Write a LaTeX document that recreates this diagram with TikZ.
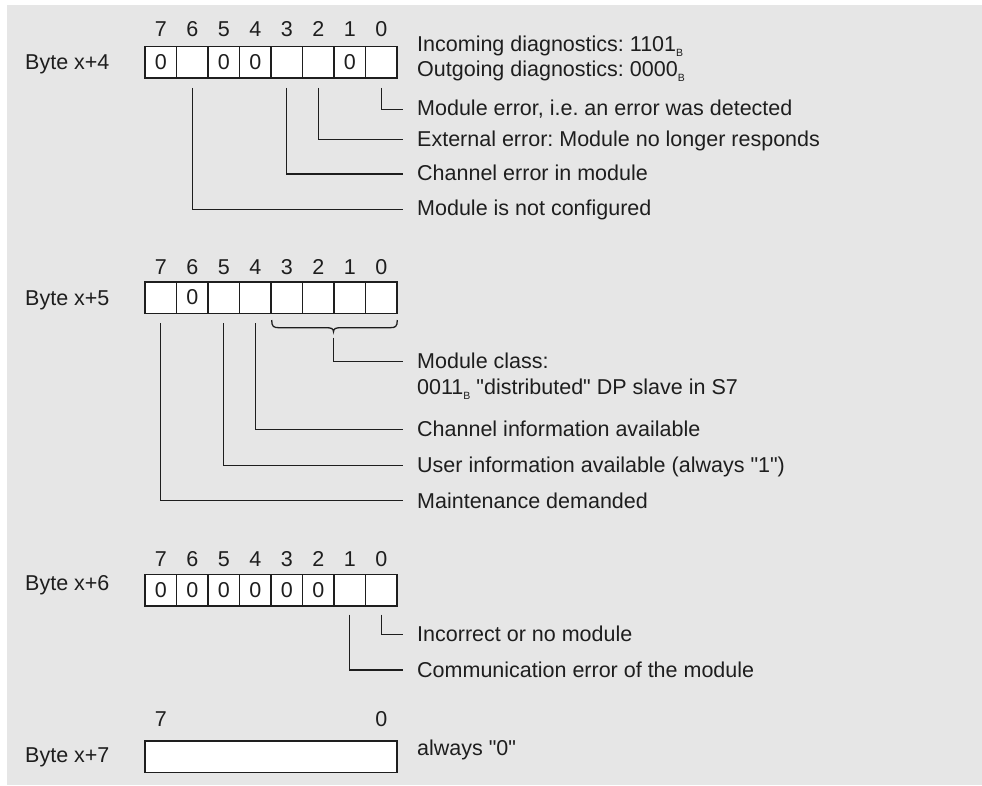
\documentclass[tikz,border=0pt]{standalone}
\usepackage{fontspec}
\setmainfont[Ligatures=TeXOff]{Liberation Sans}
\frenchspacing
\definecolor{bg}{HTML}{E6E6E6}
\definecolor{ink}{HTML}{1E1E1E}
\newcommand\binsub[1]{\raisebox{-5pt}{\fontsize{10.5}{11}\selectfont #1}}
\begin{document}
\begin{tikzpicture}[x=1pt,y=-1pt,
  txt/.style={anchor=base west, inner sep=0pt, text=ink, font=\fontsize{21.5}{25}\selectfont},
  num/.style={anchor=base, inner sep=0pt, text=ink, font=\fontsize{21.5}{25}\selectfont},
  cell/.style={draw=ink, fill=white, line width=1.5pt, minimum width=31.5pt,
    minimum height=31.5pt, inner sep=0pt, text=ink, font=\fontsize{21.5}{25}\selectfont},
  longcell/.style={cell, minimum width=252pt},
  lead/.style={draw=ink, line width=1.4pt}]

% page and grey panel
\fill[white] (0,0) rectangle (982,785);
\fill[bg] (7,5) rectangle (982,785);
\useasboundingbox (0,0) rectangle (982,785);

% ---------------- Byte x+4 ----------------
\node[txt] (l4) at (25,69.5) {Byte x+4};
\foreach \b/\v in {7/0,6/,5/0,4/0,3/,2/,1/0,0/} {
  \node[cell] (c4\b) at ({145+31.5*(7-\b)+15.75},62.25) {\v};
  \node[num] (n4\b) at ({145+31.5*(7-\b)+15.75},36.5) {\b};
}
\node[txt] (d4a) at (417,51.7) {Incoming diagnostics: 1101\binsub{B}};
\node[txt] (d4b) at (417,76.7) {Outgoing diagnostics: 0000\binsub{B}};

\node[txt] (t40) at (417,115.5) {Module error, i.e. an error was detected};
\node[txt] (t42) at (417,146.5) {External error: Module no longer responds};
\node[txt] (t43) at (417,180.3) {Channel error in module};
\node[txt] (t46) at (417,215.5) {Module is not configured};
\coordinate (e40) at (403,109.3);
\coordinate (e42) at (403,139.3);
\coordinate (e43) at (403,174);
\coordinate (e46) at (403,209.3);
\draw[lead] ([yshift=-9pt]c40.south) |- (e40);
\draw[lead] ([yshift=-9pt]c42.south) |- (e42);
\draw[lead] ([yshift=-9pt]c43.south) |- (e43);
\draw[lead] ([yshift=-9pt]c46.south) |- (e46);

% ---------------- Byte x+5 ----------------
\node[txt] (l5) at (25,305.3) {Byte x+5};
\foreach \b/\v in {7/,6/0,5/,4/,3/,2/,1/,0/} {
  \node[cell] (c5\b) at ({145+31.5*(7-\b)+15.75},297.5) {\v};
  \node[num] (n5\b) at ({145+31.5*(7-\b)+15.75},274) {\b};
}
% brace over bits 3..0
\coordinate (br) at (333.5,331.7);
\draw[lead, line width=1.3pt] (271.7,320) .. controls (271.7,326.5) and (273.5,327.7) .. (279,327.7)
  -- (326,327.7) .. controls (331,327.7) and (333.5,328.5) .. (br)
  .. controls (333.5,328.5) and (336,327.7) .. (341,327.7)
  -- (390,327.7) .. controls (395.5,327.7) and (397.3,326.5) .. (397.3,320);

\node[txt] (t5c) at (417,368.3) {Module class:};
\node[txt] (t5d) at (417,394) {0011\binsub{B} "distributed" DP slave in S7};
\node[txt] (t54) at (417,436.5) {Channel information available};
\node[txt] (t55) at (417,472.5) {User information available (always "1")};
\node[txt] (t57) at (417,508) {Maintenance demanded};
\coordinate (e5c) at (403,361.5);
\coordinate (e54) at (403,429.3);
\coordinate (e55) at (403,465.2);
\coordinate (e57) at (403,500.7);
\draw[lead] ([yshift=-6pt]br) |- (e5c);
\draw[lead] ([yshift=-9pt]c54.south) |- (e54);
\draw[lead] ([yshift=-9pt]c55.south) |- (e55);
\draw[lead] ([yshift=-9pt]c57.south) |- (e57);

% ---------------- Byte x+6 ----------------
\node[txt] (l6) at (25,590) {Byte x+6};
\foreach \b/\v in {7/0,6/0,5/0,4/0,3/0,2/0,1/,0/} {
  \node[cell] (c6\b) at ({145+31.5*(7-\b)+15.75},590.2) {\v};
  \node[num] (n6\b) at ({145+31.5*(7-\b)+15.75},566.5) {\b};
}
\node[txt] (t60) at (417,641) {Incorrect or no module};
\node[txt] (t61) at (417,677) {Communication error of the module};
\coordinate (e60) at (403,634.3);
\coordinate (e61) at (403,670);
\draw[lead] ([yshift=-8pt]c60.south) |- (e60);
\draw[lead] ([yshift=-8pt]c61.south) |- (e61);

% ---------------- Byte x+7 ----------------
\node[txt] (l7) at (25,762.7) {Byte x+7};
\node[longcell] (c7) at (271,756.7) {};
\node[num] (n77) at (160.75,726.5) {7};
\node[num] (n70) at (381.25,726.5) {0};
\node[txt] (t7) at (417,755) {always "0"};
\end{tikzpicture}
\end{document}
